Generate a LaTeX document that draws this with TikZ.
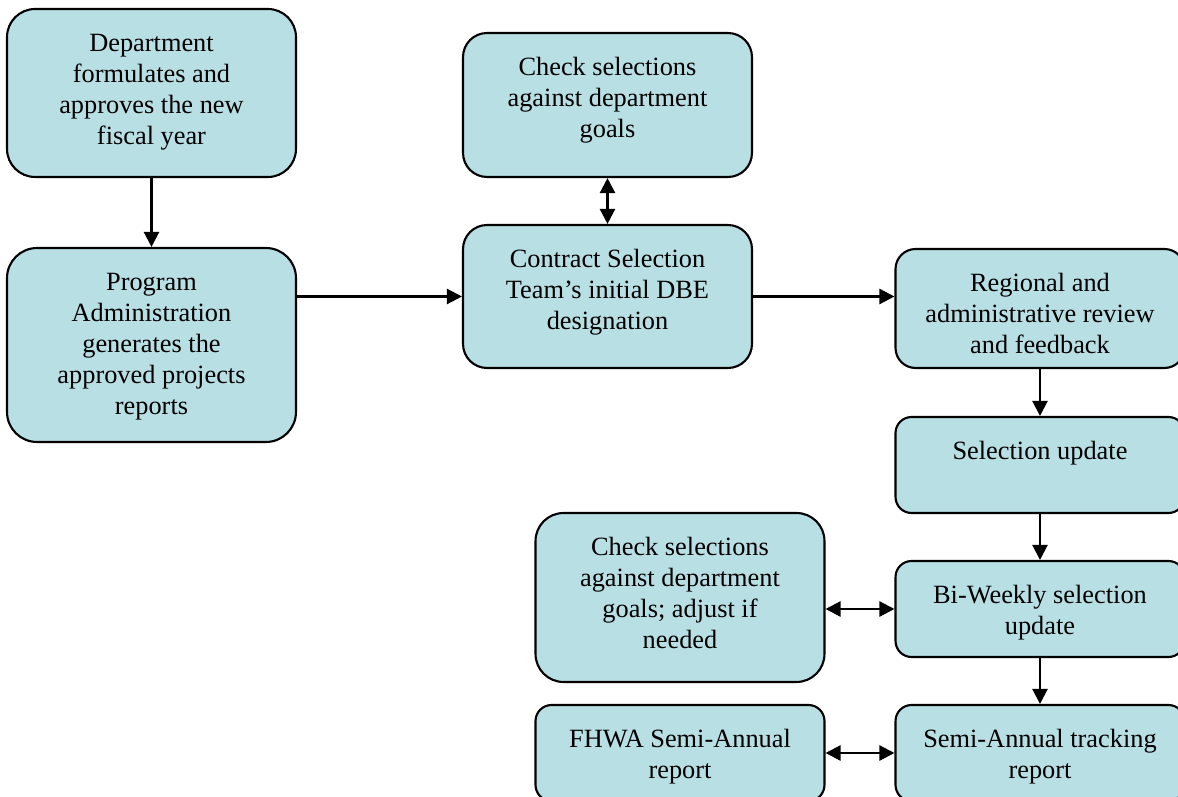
\documentclass[tikz,border=0pt]{standalone}
\usepackage{fontspec}
\setmainfont{Liberation Serif}
\usepackage{tikz}
\usetikzlibrary{arrows.meta}

\definecolor{boxfill}{RGB}{184,223,228}
\tikzset{
  stepbox/.style={draw, fill=boxfill, line width=1.2pt, rounded corners=#1,
    inner sep=0pt, minimum width=5.78cm},
  stepbox/.default=0.4cm,
  flow/.style={line width=1.3pt, -{Triangle[length=0.3cm,width=0.3cm]}},
  twoway/.style={line width=1.3pt,
    {Triangle[length=0.3cm,width=0.3cm]}-{Triangle[length=0.3cm,width=0.3cm]}}
}
\newcommand{\boxlines}[2]{\parbox[c][#1][t]{5.6cm}{\centering
  \fontsize{15pt}{17.6pt}\selectfont\rule{0pt}{0.85cm}#2}}

\begin{document}
\begin{tikzpicture}[x=0.02cm, y=-0.02cm]
\clip (0,0) rectangle (1178,797);
% left column
\node[stepbox=0.56cm] (dept) at (151.5,93) {\boxlines{3.36cm}{Department\\formulates and\\approves the new\\fiscal year}};
\node[stepbox=0.6cm] (prog) at (151.5,345) {\boxlines{3.88cm}{Program\\Administration\\generates the\\approved projects\\reports}};
% middle column
\node[stepbox=0.48cm] (chk1) at (607.5,105) {\boxlines{2.88cm}{Check selections\\against department\\goals}};
\node[stepbox=0.48cm] (contract) at (607.5,296.5) {\boxlines{2.86cm}{Contract Selection\\Team’s initial DBE\\designation}};
\node[stepbox=0.56cm] (chkadj) at (680,597.5) {\boxlines{3.38cm}{Check selections\\against department\\goals; adjust if\\needed}};
\node[stepbox=0.32cm] (fhwa) at (680,753) {\boxlines{1.92cm}{FHWA Semi-Annual\\report}};
% right column
\node[stepbox=0.4cm] (regional) at (1040,308.5) {\boxlines{2.38cm}{Regional and\\administrative review\\and feedback}};
\node[stepbox=0.32cm] (selupd) at (1040,465) {\boxlines{1.92cm}{Selection update}};
\node[stepbox=0.32cm] (biweekly) at (1040,609) {\boxlines{1.92cm}{Bi-Weekly selection\\update}};
\node[stepbox=0.32cm] (semi) at (1040,753) {\boxlines{1.92cm}{Semi-Annual tracking\\report}};
% connectors
\draw[flow] (dept) -- (prog);
\draw[flow] (prog.east |- contract.west) -- (contract.west);
\draw[twoway] (chk1) -- (contract);
\draw[flow] (contract.east) -- (contract.east -| regional.west);
\draw[flow] (regional) -- (selupd);
\draw[flow] (selupd) -- (biweekly);
\draw[twoway] (chkadj.east |- biweekly.west) -- (biweekly.west);
\draw[flow] (biweekly) -- (semi);
\draw[twoway] (fhwa) -- (semi);
\end{tikzpicture}
\end{document}
